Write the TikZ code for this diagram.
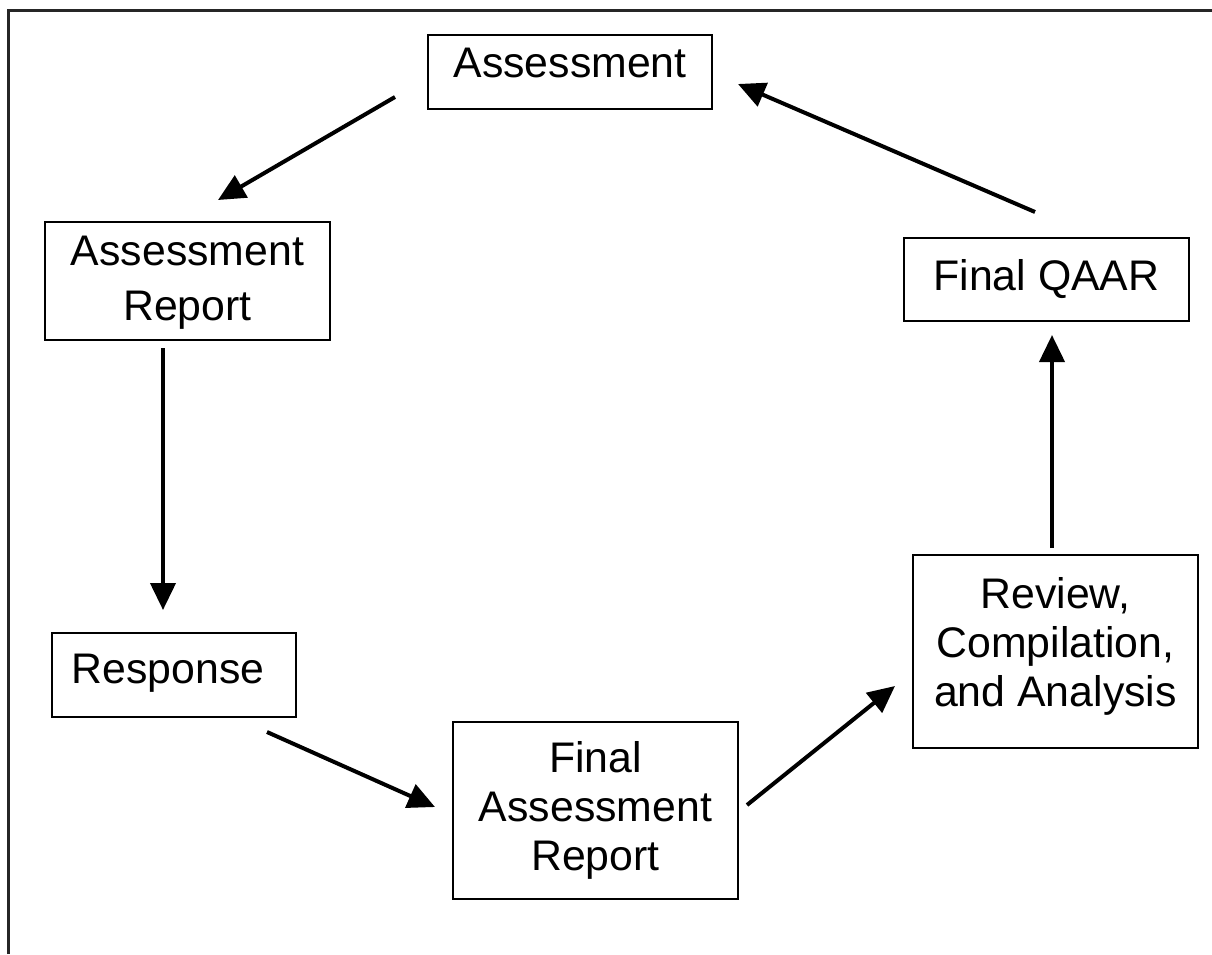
\documentclass[tikz,border=0pt]{standalone}
\usepackage{fontspec}
\setmainfont{Liberation Sans}
\usetikzlibrary{arrows.meta}
\begin{document}
\begin{tikzpicture}[x=1pt,y=-1pt,
  box/.style={draw=black, line width=1.8pt, inner sep=0pt},
  lbl/.style={font=\fontsize{42.8}{49}\selectfont, inner sep=0pt, align=center, anchor=north},
  arr/.style={line width=4pt, -{Triangle[width=25pt,length=27pt]}},
  frameline/.style={line width=3pt, draw=black!85}]
\useasboundingbox (0,0) rectangle (1212,954);
\draw[frameline] (8.5,954) -- (8.5,10) -- (1212,10);

% boxes
\node[box, minimum width=284pt, minimum height=74pt] (assess) at (570,72) {};
\node[lbl] (assessT) at (570,47.5) {Assessment};

\node[box, minimum width=285pt, minimum height=118pt] (ar) at (187.5,281) {};
\node[lbl] (arT) at (187.5,235.5) {Assessment\\[6pt]Report};

\node[box, minimum width=244pt, minimum height=84pt] (resp) at (174,675) {};
\node[lbl] (respT) at (168,654) {Response};

\node[box, minimum width=285pt, minimum height=177pt] (far) at (595.5,810.5) {};
\node[lbl] (farT) at (595.5,741.5) {Final\\Assessment\\Report};

\node[box, minimum width=285pt, minimum height=193pt] (rev) at (1055.5,651.5) {};
\node[lbl] (revT) at (1055.5,577) {Review,\\Compilation,\\and Analysis};

\node[box, minimum width=285pt, minimum height=83pt] (qaar) at (1046.5,279.5) {};
\node[lbl] (qaarT) at (1046.5,259) {Final QAAR};

% arrow end points
\coordinate (a1s) at (395,97);   \coordinate (a1e) at (218,200);
\coordinate (a2s) at (163,348);  \coordinate (a2e) at (163,610);
\coordinate (a3s) at (267,732);  \coordinate (a3e) at (435,807);
\coordinate (a4s) at (747,805);  \coordinate (a4e) at (895,686);
\coordinate (a5s) at (1052,548); \coordinate (a5e) at (1052,335);
\coordinate (a6s) at (1035,212); \coordinate (a6e) at (738,84);

\draw[arr] (a1s) -- (a1e);
\draw[arr] (a2s) -- (a2e);
\draw[arr] (a3s) -- (a3e);
\draw[arr] (a4s) -- (a4e);
\draw[arr] (a5s) -- (a5e);
\draw[arr] (a6s) -- (a6e);
\end{tikzpicture}
\end{document}
